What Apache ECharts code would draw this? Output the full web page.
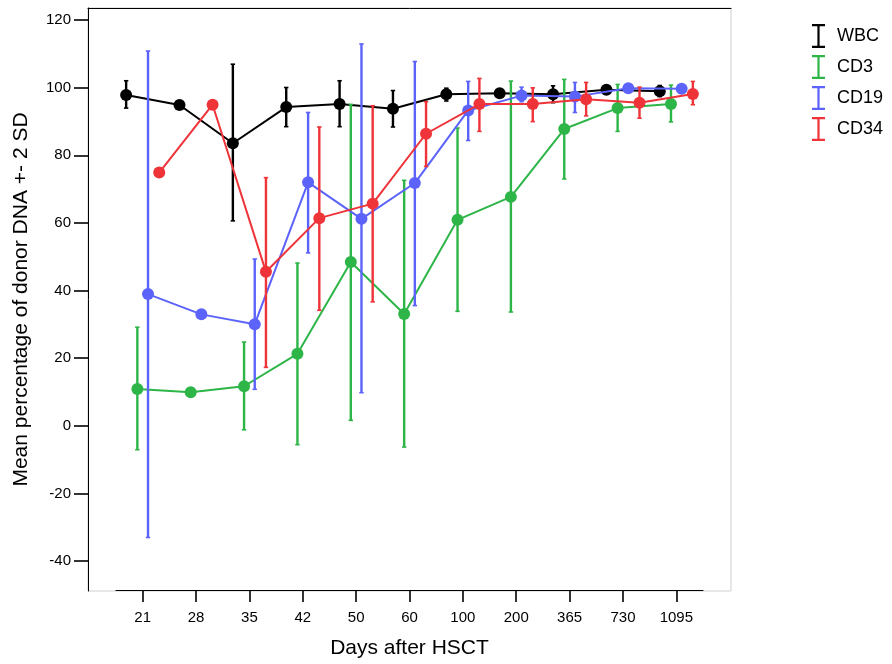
<!DOCTYPE html>
<html>
<head>
<meta charset="utf-8">
<script src="https://cdn.jsdelivr.net/npm/echarts@6/dist/echarts.min.js"></script>
<style>
html,body{margin:0;padding:0;background:#fff;}
#chart{width:892px;height:664px;}
</style>
</head>
<body>
<div id="chart"></div>
<script>
const categories = ['21','28','35','42','50','60','100','200','365','730','1095'];
const yTicks = [-40,-20,0,20,40,60,80,100,120];

const seriesNames = ['WBC','CD3','CD19','CD34'];

const wbcMean = [97.8, 94.8, 83.5, 94.2, 95.1, 93.7, 98.0, 98.3, 98.0, 99.3, 98.9];
const wbcLow  = [93.9, null, 60.5, 88.4, 88.4, 88.3, 96.0, 97.3, 95.5, 98.3, 97.3];
const wbcHigh = [102.0, null, 106.9, 100.0, 102.0, 99.1, 99.8, 99.3, 100.5, 100.3, 100.6];

const cd3Mean = [10.7, 9.7, 11.5, 21.1, 48.3, 32.9, 60.8, 67.6, 87.7, 93.9, 95.1];
const cd3Low  = [-7.3, null, -1.4, -5.8, 1.4, -6.5, 33.7, 33.5, 72.9, 87.0, 89.8];
const cd3High = [29.0, null, 24.6, 48.0, 95.0, 72.5, 88.0, 101.9, 102.4, 100.9, 100.7];

const cd19Mean = [38.8, 32.8, 29.9, 71.9, 61.1, 71.7, 93.2, 97.6, 97.3, 99.8, 99.6];
const cd19Low  = [-33.3, null, 10.6, 51.0, 9.6, 35.4, 84.3, 95.8, 92.6, 99.3, 99.1];
const cd19High = [110.8, null, 49.2, 92.6, 112.9, 107.7, 101.8, 100.1, 101.5, 100.3, 100.1];

const cd34Mean = [74.8, 94.9, 45.4, 61.3, 65.6, 86.3, 95.1, 95.1, 96.5, 95.5, 98.1];
const cd34Low  = [null, null, 17.1, 34.0, 36.5, 76.6, 87.0, 89.9, 91.6, 90.9, 94.9];
const cd34High = [null, null, 73.3, 88.3, 94.6, 95.8, 102.7, 99.9, 101.5, 100.1, 101.8];

const colors = ['#000000', '#2db548', '#5c63fa', '#ee3339'];
const offsets = [-0.31, -0.1, 0.1, 0.31];
const means = [wbcMean, cd3Mean, cd19Mean, cd34Mean];
const lows = [wbcLow, cd3Low, cd19Low, cd34Low];
const highs = [wbcHigh, cd3High, cd19High, cd34High];

const Y_MIN = -48.85, Y_MAX = 123.55;
const legendIcon = 'path://M0,0H13V2.2H7.6V21.8H13V24H0V21.8H5.4V2.2H0Z';
const FONT = 'Liberation Sans, Arial, sans-serif';

const chart = echarts.init(document.getElementById('chart'), null, {renderer: 'canvas'});

const series = [];
seriesNames.forEach((name, s) => {
  const errData = [];
  categories.forEach((c, i) => {
    if (lows[s][i] != null && highs[s][i] != null) {
      errData.push([i + offsets[s], lows[s][i], highs[s][i]]);
    }
  });
  series.push({
    name: name + '_err',
    type: 'custom',
    xAxisIndex: 2,
    yAxisIndex: 1,
    z: 2 + s * 2,
    silent: true,
    data: errData,
    encode: {x: 0, y: [1, 2]},
    renderItem: function (params, api) {
      const x = api.value(0);
      const lo = api.coord([x, api.value(1)]);
      const hi = api.coord([x, api.value(2)]);
      const cw = 2.2;
      return {
        type: 'group',
        children: [
          {type: 'line', shape: {x1: lo[0], y1: lo[1], x2: hi[0], y2: hi[1]}, style: {stroke: colors[s], lineWidth: 2.4}},
          {type: 'line', shape: {x1: lo[0] - cw, y1: lo[1], x2: lo[0] + cw, y2: lo[1]}, style: {stroke: colors[s], lineWidth: 1.6}},
          {type: 'line', shape: {x1: hi[0] - cw, y1: hi[1], x2: hi[0] + cw, y2: hi[1]}, style: {stroke: colors[s], lineWidth: 1.6}}
        ]
      };
    }
  });
  series.push({
    name: name,
    type: 'line',
    xAxisIndex: 2,
    yAxisIndex: 1,
    z: 3 + s * 2,
    data: means[s].map((v, i) => [i + offsets[s], v]),
    symbol: 'circle',
    symbolSize: 12,
    showSymbol: true,
    lineStyle: {color: colors[s], width: 2},
    itemStyle: {color: colors[s]},
    emphasis: {disabled: true},
    animation: false
  });
});

const option = {
  animation: false,
  backgroundColor: '#ffffff',
  textStyle: {fontFamily: FONT},
  grid: [
    {left: 88, right: 892 - 731, top: 8, bottom: 664 - 591, show: true, borderColor: '#cfcfcf', borderWidth: 1, backgroundColor: 'transparent'},
    {left: 116, right: 892 - 703, top: 8, bottom: 664 - 591, show: false}
  ],
  legend: {
    orient: 'vertical',
    left: 807,
    top: 19,
    itemWidth: 27,
    itemHeight: 24,
    itemGap: 7,
    selectedMode: false,
    symbolKeepAspect: true,
    textStyle: {fontSize: 18, color: '#000', fontFamily: FONT},
    data: seriesNames.map(n => ({name: n, icon: legendIcon}))
  },
  xAxis: [
    {
      gridIndex: 0, type: 'value', position: 'top', min: 0, max: 1,
      axisLine: {show: true, onZero: false, lineStyle: {color: '#000', width: 1}},
      axisTick: {show: false}, axisLabel: {show: false}, splitLine: {show: false}
    },
    {
      gridIndex: 1, type: 'category', position: 'bottom', data: categories,
      boundaryGap: true,
      axisLine: {show: true, onZero: false, lineStyle: {color: '#000', width: 1}},
      axisTick: {show: true, alignWithLabel: true, length: 12, lineStyle: {color: '#000', width: 1.6}},
      axisLabel: {fontSize: 15, color: '#000', margin: 20, fontFamily: FONT},
      splitLine: {show: false},
      name: 'Days after HSCT',
      nameLocation: 'middle',
      nameGap: 48,
      nameTextStyle: {fontSize: 21, color: '#000', fontFamily: FONT}
    },
    {
      gridIndex: 1, type: 'value', min: -0.5, max: 10.5, show: false
    }
  ],
  yAxis: [
    {
      gridIndex: 0, type: 'value', min: Y_MIN, max: Y_MAX,
      axisLine: {show: true, onZero: false, lineStyle: {color: '#000', width: 1}},
      axisTick: {show: true, length: 14, customValues: yTicks, lineStyle: {color: '#000', width: 1.6}},
      axisLabel: {show: true, customValues: yTicks, fontSize: 15, color: '#000', margin: 17, fontFamily: FONT},
      splitLine: {show: false},
      name: 'Mean percentage of donor DNA +- 2 SD',
      nameLocation: 'middle',
      nameGap: 56,
      nameTextStyle: {fontSize: 21, color: '#000', fontFamily: FONT}
    },
    {
      gridIndex: 1, type: 'value', min: Y_MIN, max: Y_MAX, show: false
    }
  ],
  series: series
};

chart.setOption(option);
</script>
</body>
</html>
